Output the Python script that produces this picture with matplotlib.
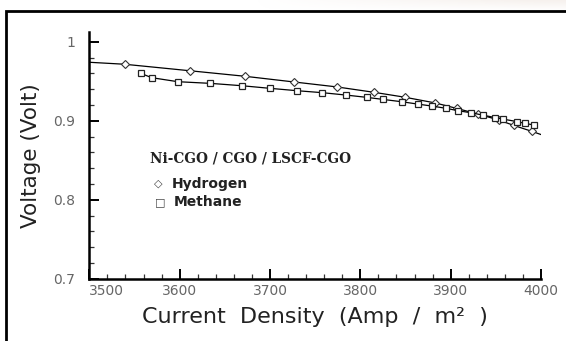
import matplotlib
matplotlib.use("Agg")
import matplotlib.pyplot as plt
from matplotlib.patches import Rectangle
from matplotlib.ticker import MultipleLocator
import numpy as np

# Hydrogen-fuelled cell: measured points and the fitted line through them
h2_current = [3539, 3611, 3672, 3727, 3774, 3815, 3849, 3883, 3907, 3930, 3953, 3970, 3990]
h2_voltage = [0.9715, 0.9633, 0.9563, 0.9490, 0.9428, 0.9360, 0.9298, 0.9225,
              0.9155, 0.9085, 0.9010, 0.8940, 0.8865]
h2_fit_current = [3500, 3539, 3611, 3672, 3727, 3774, 3815, 3849, 3883, 3907, 3930, 3953, 3970, 3990, 4000]
h2_fit_voltage = [0.9740, 0.9715, 0.9633, 0.9563, 0.9490, 0.9428, 0.9360, 0.9298, 0.9225,
                  0.9155, 0.9085, 0.9010, 0.8940, 0.8865, 0.8825]

# Methane-fuelled cell
ch4_current = [3557, 3569, 3598, 3634, 3669, 3700, 3730, 3758, 3784, 3807, 3825, 3846,
               3864, 3879, 3895, 3908, 3923, 3936, 3949, 3958, 3973, 3982, 3992]
ch4_voltage = [0.960, 0.9545, 0.9494, 0.9473, 0.9443, 0.941, 0.938, 0.9355, 0.9325, 0.9296,
               0.927, 0.924, 0.921, 0.9186, 0.9157, 0.9127, 0.910, 0.907, 0.904, 0.902,
               0.899, 0.8967, 0.8946]

x_ticks = [3500, 3600, 3700, 3800, 3900, 4000]
y_ticks = [0.7, 0.8, 0.9, 1.0]
y_tick_labels = ["0.7", "0.8", "0.9", "1"]

W, H = 566, 341
fig = plt.figure(figsize=(W / 100, H / 100), dpi=100)
fig.patch.set_facecolor("white")

# faint background texture above the frame on the right
bg = fig.add_axes([0, 0, 1, 1], zorder=-5)
bg.set_axis_off()
grad = np.zeros((40, 200, 4))
xs = np.linspace(0, 1, 200)
ys = np.linspace(0, 1, 40)
alpha = np.clip((xs[None, :] - 0.45) * 2.0, 0, 1) * np.clip(1 - ys[:, None] * 1.0, 0, 1) * 0.35
grad[..., 0] = 0.90
grad[..., 1] = 0.84
grad[..., 2] = 0.80
grad[..., 3] = alpha
bg.imshow(grad, extent=[0, 1, 1 - 11 / H, 1], aspect="auto", origin="upper",
          transform=bg.transAxes)
bg.set_xlim(0, 1)
bg.set_ylim(0, 1)

# outer frame
fig.add_artist(Rectangle((6 / W, -0.1), 1.2, 1.1 - 11 / H,
                         transform=fig.transFigure, fill=False,
                         edgecolor="black", linewidth=2.0))

ax = fig.add_axes([89.3 / W, 1 - 278.7 / H, (541 - 89.3) / W, (278.7 - 31.7) / H])
ax.set_xlim(3500, 4000)
ax.set_ylim(0.7, 1.0127)

ax.plot(h2_fit_current, h2_fit_voltage, color="black", linewidth=0.9, zorder=2)
ax.plot(h2_current, h2_voltage, linestyle="none", marker="D", markersize=4.0,
        markerfacecolor="white", markeredgecolor="#333333", markeredgewidth=0.8, zorder=3)
ax.plot(ch4_current, ch4_voltage, color="black", linewidth=0.9, marker="s",
        markersize=4.0, markerfacecolor="white", markeredgecolor="#222222",
        markeredgewidth=0.9, zorder=3)

for side in ("top", "right"):
    ax.spines[side].set_visible(False)
for side in ("left", "bottom"):
    ax.spines[side].set_linewidth(1.8)

ax.set_xticks(x_ticks)
ax.set_xticklabels([str(v) for v in x_ticks])
ax.set_yticks(y_ticks)
ax.set_yticklabels(y_tick_labels)
ax.xaxis.set_minor_locator(MultipleLocator(20))
ax.yaxis.set_minor_locator(MultipleLocator(0.02))
ax.tick_params(which="major", direction="in", length=7, width=1.4,
               labelsize=10, labelcolor="#666666", color="black")
ax.tick_params(which="minor", direction="in", length=3.5, width=0.9, color="#333333")
ax.tick_params(axis="x", which="major", pad=4)
ax.tick_params(axis="y", which="major", pad=10)
for lbl in ax.get_xticklabels() + ax.get_yticklabels():
    lbl.set_family("DejaVu Sans")
ax.get_xticklabels()[0].set_horizontalalignment("left")

ax.set_xlabel("Current  Density  (Amp  /  m\u00b2  )", fontsize=16, color="#222222",
              family="DejaVu Sans", labelpad=6)
ax.set_ylabel("Voltage (Volt)", fontsize=15.5, color="#222222",
              family="DejaVu Sans", labelpad=9)

ax.text(150 / W, 1 - 158 / H, "Ni-CGO / CGO / LSCF-CGO", transform=fig.transFigure,
        family="DejaVu Serif", fontweight="bold", fontsize=9.8, color="#222222",
        ha="left", va="center")
ax.text(157.8 / W, 1 - 184 / H, "\u25c7", transform=fig.transFigure,
        family="DejaVu Sans", fontsize=8, color="#444444", ha="center", va="center")
ax.text(172 / W, 1 - 184 / H, "Hydrogen", transform=fig.transFigure,
        family="DejaVu Sans", fontweight="bold", fontsize=10, color="#222222",
        ha="left", va="center")
ax.text(160 / W, 1 - 202 / H, "\u25a1", transform=fig.transFigure,
        family="DejaVu Sans", fontsize=8, color="#444444", ha="center", va="center")
ax.text(174 / W, 1 - 202 / H, "Methane", transform=fig.transFigure,
        family="DejaVu Sans", fontweight="bold", fontsize=10, color="#222222",
        ha="left", va="center")

fig.savefig("out.png", dpi=100)
